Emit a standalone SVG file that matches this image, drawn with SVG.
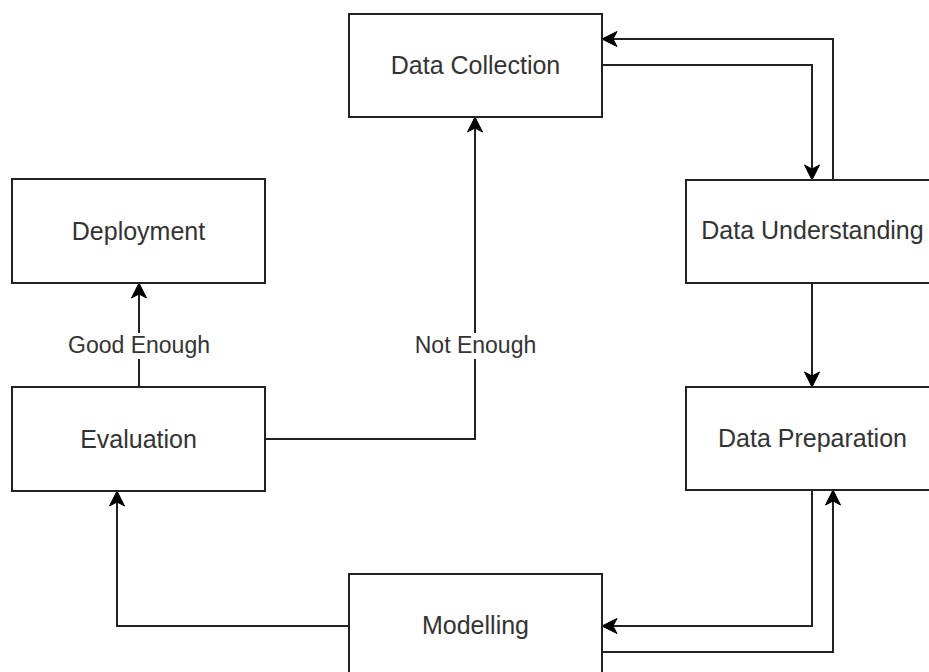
<svg xmlns="http://www.w3.org/2000/svg" width="929" height="672" viewBox="0 0 929 672">
<style>
.box{fill:#ffffff;stroke:#222222;stroke-width:2}
.t{font-family:"Liberation Sans",Arial,sans-serif;font-size:25px;fill:#333333;text-anchor:middle}
.lbl{font-family:"Liberation Sans",Arial,sans-serif;font-size:23px;fill:#333333;text-anchor:middle}
.c{fill:none;stroke:#222222;stroke-width:2;marker-end:url(#ah)}
</style>
<defs>
<marker id="ah" markerUnits="userSpaceOnUse" viewBox="-6 -9 18 18" refX="0" refY="0" markerWidth="18" markerHeight="18" orient="auto">
<path d="M10,0 L-5,-7.5 L-1,0 L-5,7.5 Z" fill="#000000" stroke="#000000" stroke-width="1"/>
</marker>
</defs>
<rect width="929" height="672" fill="#ffffff"/>
<g id="connectors">
<path class="c" d="M602,65 H812 V170"/>
<path class="c" d="M833,180 V39 H612"/>
<path class="c" d="M812,283 V377"/>
<path class="c" d="M812,490 V626 H612"/>
<path class="c" d="M602,652 H833 V500"/>
<path class="c" d="M349,626 H117 V501"/>
<path class="c" d="M265,439 H475 V127"/>
<path class="c" d="M139,387 V293"/>
<rect x="412" y="333" width="126" height="26" fill="#ffffff"/>
<text class="lbl" x="475.5" y="352.5">Not Enough</text>
<rect x="66" y="333" width="146" height="26" fill="#ffffff"/>
<text class="lbl" x="139" y="352.5">Good Enough</text>
</g>
<g id="data-collection">
<rect class="box" x="349" y="14" width="253" height="103"/>
<text class="t" x="475.5" y="74">Data Collection</text>
</g>
<g id="data-understanding">
<rect class="box" x="686" y="180" width="253" height="103"/>
<text class="t" x="812.5" y="239">Data Understanding</text>
</g>
<g id="deployment">
<rect class="box" x="12" y="179" width="253" height="104"/>
<text class="t" x="138.5" y="239.5">Deployment</text>
</g>
<g id="evaluation">
<rect class="box" x="12" y="387" width="253" height="104"/>
<text class="t" x="138.5" y="447.5">Evaluation</text>
</g>
<g id="data-preparation">
<rect class="box" x="686" y="387" width="253" height="103"/>
<text class="t" x="812.5" y="447">Data Preparation</text>
</g>
<g id="modelling">
<rect class="box" x="349" y="574" width="253" height="103"/>
<text class="t" x="475.5" y="634">Modelling</text>
</g>
</svg>
